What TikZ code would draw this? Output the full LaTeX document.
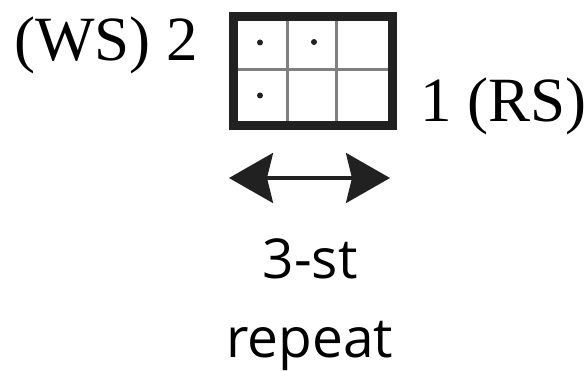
\documentclass[tikz,border=0pt]{standalone}
\usepackage{fontspec}
\setmainfont{Liberation Serif}
\newfontfamily\labelsans{Open Sans}
\usetikzlibrary{arrows.meta}
\begin{document}
\begin{tikzpicture}[x=1pt,y=-1pt,
  serlabel/.style={inner sep=0pt,font=\fontsize{63}{63}\selectfont},
  sanslabel/.style={inner sep=0pt,font=\labelsans\fontsize{55}{55}\selectfont},
  gridline/.style={draw=black!50,line width=3pt},
  frameline/.style={draw=black!87,line width=9pt},
  stitchdot/.style={fill=black!87}]
\useasboundingbox (0,0) rectangle (586,371);
% grid
\node[minimum width=159pt,minimum height=108pt,inner sep=0pt,anchor=north west] (grid) at (233,17) {};
\draw[gridline] (287.3,17) -- (287.3,125);
\draw[gridline] (336.7,17) -- (336.7,125);
\draw[gridline] (233,70) -- (392,70);
\draw[frameline] (grid.north west) rectangle (grid.south east);
\fill[stitchdot] (260,42.5) circle (3);
\fill[stitchdot] (314,42) circle (3);
\fill[stitchdot] (260,95.5) circle (3);
% labels
\node[serlabel,anchor=base west] (ws) at (14,61) {(WS) 2};
\node[serlabel,anchor=base west] (rs) at (420,122) {1 (RS)};
% arrow
\coordinate (al) at (229,178);
\coordinate (ar) at (390,178);
\draw[line width=3.5pt,{Stealth[length=44pt,width=50pt,inset=6pt]}-{Stealth[length=44pt,width=50pt,inset=6pt]},draw=black!87,fill=black!87] (al) -- (ar);
\node[sanslabel,anchor=base] (st) at (310,279) {3-st};
\node[sanslabel,anchor=base] (rep) at (310,357) {repeat};
\end{tikzpicture}
\end{document}
